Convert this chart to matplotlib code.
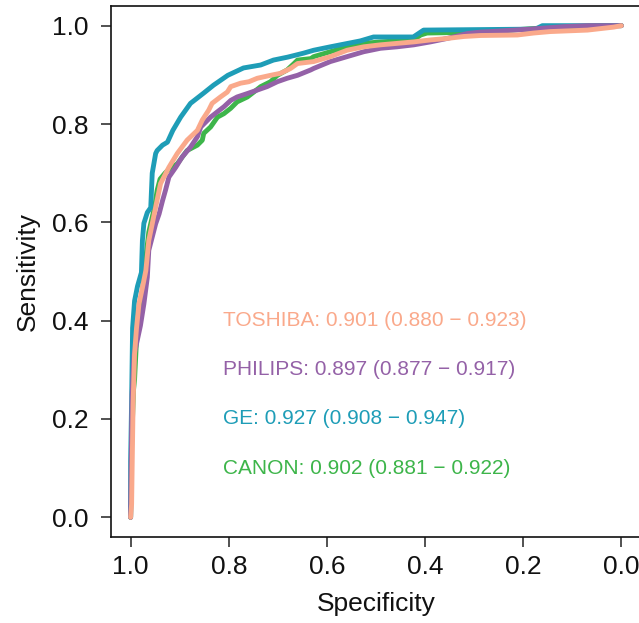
import matplotlib
matplotlib.use("Agg")
import matplotlib.pyplot as plt

plt.rcParams['font.family'] = ['Liberation Sans', 'DejaVu Sans']

# ---- data ----
canon_spec = [1.0, 0.998, 0.994, 0.992, 0.988, 0.984, 0.976, 0.970, 0.963, 0.955, 0.951, 0.946, 0.940,
              0.930, 0.922, 0.905, 0.885, 0.864, 0.854, 0.851, 0.837, 0.823, 0.810, 0.796, 0.783,
              0.762, 0.749, 0.735, 0.715, 0.701, 0.681, 0.667, 0.660, 0.633, 0.627, 0.593, 0.559,
              0.525, 0.491, 0.423, 0.409, 0.396, 0.287, 0.165, 0.043, 0.0]
canon_sens = [0.0, 0.150, 0.260, 0.280, 0.360, 0.420, 0.460, 0.520, 0.580, 0.615, 0.631, 0.665, 0.688,
              0.700, 0.708, 0.719, 0.746, 0.757, 0.767, 0.781, 0.794, 0.814, 0.821, 0.832, 0.845,
              0.855, 0.865, 0.876, 0.886, 0.899, 0.910, 0.923, 0.930, 0.933, 0.937, 0.947, 0.957,
              0.964, 0.967, 0.971, 0.981, 0.985, 0.987, 0.995, 1.0, 1.0]

ge_spec = [1.0, 1.0, 0.998, 0.996, 0.992, 0.986, 0.978, 0.976, 0.973, 0.966, 0.959, 0.956, 0.949,
           0.946, 0.935, 0.925, 0.914, 0.898, 0.878, 0.851, 0.831, 0.802, 0.770, 0.735, 0.709,
           0.680, 0.648, 0.627, 0.593, 0.532, 0.505, 0.424, 0.403, 0.175, 0.161, 0.0]
ge_sens = [0.0, 0.114, 0.237, 0.385, 0.440, 0.470, 0.498, 0.563, 0.598, 0.620, 0.630, 0.700, 0.740,
           0.746, 0.757, 0.763, 0.787, 0.814, 0.842, 0.863, 0.879, 0.899, 0.914, 0.920, 0.930,
           0.936, 0.944, 0.950, 0.957, 0.969, 0.977, 0.977, 0.991, 0.993, 1.0, 1.0]

philips_spec = [1.0, 0.999, 0.997, 0.993, 0.980, 0.973, 0.966, 0.963, 0.956, 0.949, 0.942, 0.935, 0.929,
                0.922, 0.908, 0.895, 0.878, 0.864, 0.857, 0.837, 0.823, 0.810, 0.796, 0.783, 0.762,
                0.742, 0.722, 0.701, 0.681, 0.660, 0.633, 0.627, 0.593, 0.559, 0.525, 0.491, 0.457,
                0.423, 0.389, 0.355, 0.314, 0.287, 0.267, 0.185, 0.118, 0.069, 0.0]
philips_sens = [0.0, 0.100, 0.250, 0.330, 0.390, 0.434, 0.488, 0.543, 0.570, 0.597, 0.617, 0.644, 0.665,
                0.692, 0.712, 0.733, 0.753, 0.774, 0.794, 0.814, 0.825, 0.835, 0.848, 0.855, 0.862,
                0.869, 0.876, 0.886, 0.893, 0.899, 0.910, 0.913, 0.927, 0.937, 0.947, 0.954, 0.957,
                0.961, 0.967, 0.974, 0.984, 0.987, 0.988, 0.993, 0.998, 1.0, 1.0]

toshiba_spec = [1.0, 0.998, 0.995, 0.992, 0.988, 0.983, 0.976, 0.969, 0.963, 0.949, 0.939, 0.922, 0.905,
                0.885, 0.864, 0.854, 0.841, 0.834, 0.817, 0.803, 0.796, 0.776, 0.759, 0.742, 0.715,
                0.695, 0.674, 0.660, 0.627, 0.593, 0.559, 0.525, 0.491, 0.457, 0.423, 0.389, 0.355,
                0.321, 0.287, 0.212, 0.179, 0.145, 0.069, 0.016, 0.0]
toshiba_sens = [0.0, 0.027, 0.230, 0.332, 0.385, 0.434, 0.467, 0.502, 0.563, 0.631, 0.679, 0.712, 0.740,
                0.767, 0.787, 0.808, 0.828, 0.842, 0.855, 0.865, 0.876, 0.883, 0.886, 0.893, 0.899,
                0.903, 0.913, 0.923, 0.927, 0.937, 0.950, 0.957, 0.961, 0.964, 0.967, 0.971, 0.974,
                0.978, 0.980, 0.981, 0.985, 0.988, 0.991, 0.997, 1.0]

series_names = ["CANON", "GE", "PHILIPS", "TOSHIBA"]
auc = ["0.902", "0.927", "0.897", "0.901"]
ci_low = ["0.881", "0.908", "0.877", "0.880"]
ci_high = ["0.922", "0.947", "0.917", "0.923"]
colors = ["#3DB54A", "#1E9DB7", "#9461A7", "#FAA98B"]
label_y = [0.1, 0.2, 0.3, 0.4]

ticks = [1.0, 0.8, 0.6, 0.4, 0.2, 0.0]
tick_labels = ["1.0", "0.8", "0.6", "0.4", "0.2", "0.0"]

fig = plt.figure(figsize=(6.39, 6.23), dpi=100)
ax = fig.add_axes([111/639, (623-537)/623, 530/639, 531/623])

specs = [canon_spec, ge_spec, philips_spec, toshiba_spec]
senss = [canon_sens, ge_sens, philips_sens, toshiba_sens]
for s, y, c in zip(specs, senss, colors):
    ax.plot(s, y, color=c, lw=3.5, solid_capstyle='round', solid_joinstyle='round')

for name, a, lo, hi, c, ly in zip(series_names, auc, ci_low, ci_high, colors, label_y):
    ax.text(0.811, ly, f"{name}: {a} ({lo} \u2212 {hi})", color=c, fontsize=15,
            ha='left', va='center')

ax.set_xlim(1.04, -0.04)
ax.set_ylim(-0.04, 1.04)
ax.set_xticks(ticks)
ax.set_xticklabels(tick_labels)
ax.set_yticks(ticks)
ax.set_yticklabels(tick_labels)
ax.tick_params(length=7.2, width=1.1, labelsize=19, color='#222222', labelcolor='#111111')
ax.tick_params(axis='x', pad=6)
ax.tick_params(axis='y', pad=9)
for sp in ax.spines.values():
    sp.set_linewidth(1.2)
    sp.set_color('#111111')
ax.set_xlabel("Specificity", fontsize=19, labelpad=9, color='#111111')
ax.set_ylabel("Sensitivity", fontsize=19, labelpad=9, color='#111111')

fig.savefig("out.png", dpi=100)
